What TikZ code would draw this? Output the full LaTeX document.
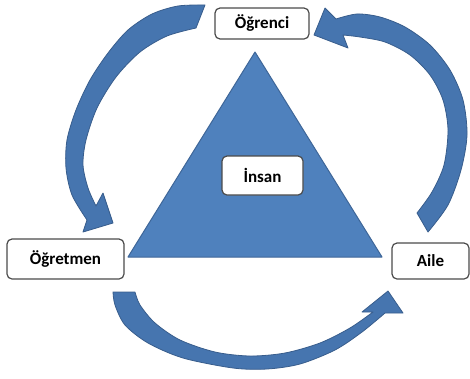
\documentclass[tikz,border=0pt]{standalone}
\usepackage{fontspec}
\setmainfont{Carlito}
\usepackage{tikz}
\definecolor{triblue}{RGB}{79,129,189}
\definecolor{triedge}{RGB}{62,102,152}
\definecolor{arrblue}{RGB}{70,117,175}
\definecolor{arredge}{RGB}{56,93,140}
\definecolor{boxedge}{RGB}{75,75,75}
\tikzstyle{rolebox} = [draw=boxedge, fill=white, rectangle, rounded corners=5pt,
    line width=1.2pt, inner sep=0pt, font=\fontsize{17}{20}\selectfont\bfseries]
\tikzstyle{curvedarrow} = [fill=arrblue, draw=arredge, line width=0.8pt, line join=round]

\begin{document}
\begin{tikzpicture}[x=1pt, y=-1pt]

    % Page frame
    \useasboundingbox (0,0) rectangle (470,378);

    % The big triangle
    \filldraw [fill=triblue, draw=triedge, line width=1pt, line join=round]
        (255,52) -- (382,257) -- (128,257) -- cycle;

    % Curved arrow: top left
    \filldraw [curvedarrow] plot [smooth] coordinates {(205,5) (178,6) (152,14) (128,30)
        (108,53) (90,80) (76,110) (67,140) (66,168) (72,195) (87,220)}
        -- (83,232) -- (113,223) -- (103,193)
        -- plot [smooth] coordinates {(96,206) (88,188) (83,165) (86,140) (97,108)
        (116,77) (140,52) (167,36) (196,28)} -- cycle;

    % Curved arrow: top right
    \filldraw [curvedarrow] plot [smooth] coordinates {(428,232) (448,205) (461,170)
        (467,135) (463,100) (450,70) (430,45) (405,27) (380,17) (357,14) (336,19)}
        -- (325,8) -- (314,35) -- (348,48)
        -- plot [smooth] coordinates {(343,35) (360,37) (385,42) (410,55) (430,75)
        (443,100) (448,130) (444,165) (432,192) (417,213)} -- cycle;

    % Curved arrow: bottom
    \filldraw [curvedarrow] plot [smooth] coordinates {(113,292) (115,305) (125,325)
        (148,343) (183,358) (233,368) (267,369) (300,364) (335,350) (362,332) (385,313)}
        -- (403,313) -- (388,291) -- (362,312)
        -- plot [smooth] coordinates {(373,312) (350,328) (320,343) (285,353) (250,356)
        (215,352) (180,340) (155,323) (140,305) (135,292)} -- cycle;

    % Boxes
    \node [rolebox, minimum width=94pt, minimum height=31pt] (ogrenci) at (262,23.5) {Öğrenci};
    \node [rolebox, minimum width=117pt, minimum height=40pt] (ogretmen) at (65.5,259) {Öğretmen};
    \node [rolebox, minimum width=77pt, minimum height=36pt] (aile) at (430.5,261) {Aile};
    \node [rolebox, minimum width=81pt, minimum height=39pt] (insan) at (262.5,175.5) {İnsan};
\end{tikzpicture}
\end{document}
